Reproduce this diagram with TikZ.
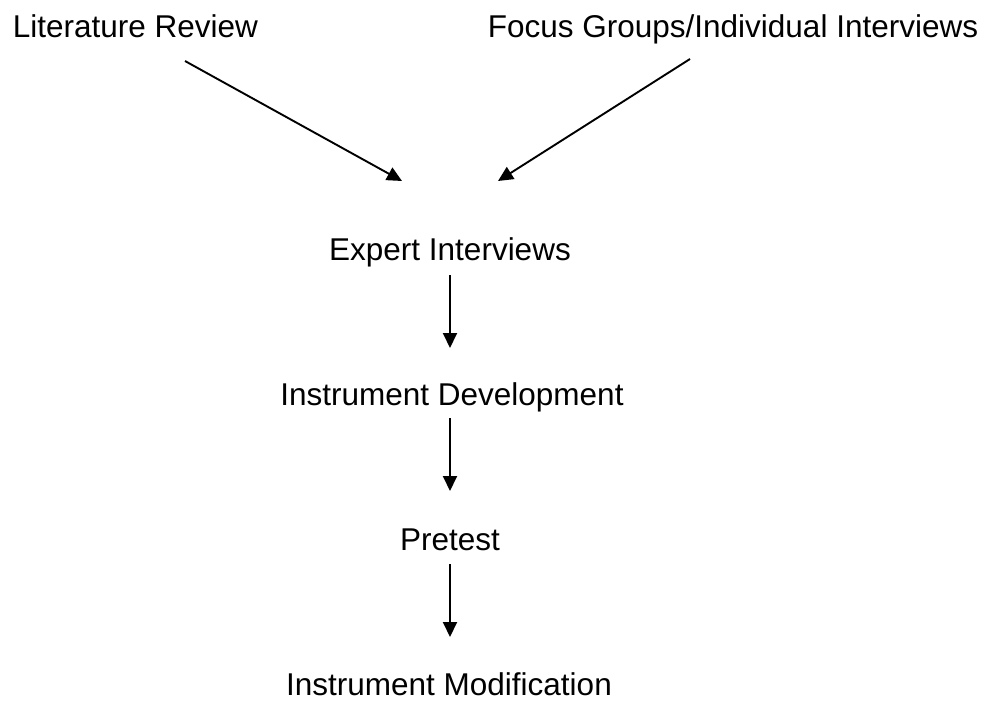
\documentclass[tikz,border=0pt]{standalone}
\usepackage{fontspec}
\setmainfont{Liberation Sans}
\usetikzlibrary{arrows.meta}
\begin{document}
\begin{tikzpicture}[x=1pt,y=-1pt,
  lbl/.style={font=\fontsize{31.5}{36}\selectfont, anchor=base, inner sep=0pt},
  conn/.style={line width=1.9pt, -{Triangle[length=15pt,width=14pt]}}]
\useasboundingbox (0,0) rectangle (988,702);
\node[lbl] (lit) at (135.5,37) {Literature Review};
\node[lbl] (focus) at (733,37) {Focus Groups/Individual Interviews};
\node[lbl] (expert) at (450,260) {Expert Interviews};
\node[lbl] (dev) at (452,405) {Instrument Development};
\node[lbl] (pre) at (450,550) {Pretest};
\node[lbl] (mod) at (449,695) {Instrument Modification};
\coordinate (litE) at (185,61);
\coordinate (focE) at (690,59);
\coordinate (expA) at (402,181);
\coordinate (expB) at (498,181);
\coordinate (expS) at (450,275);
\coordinate (devN) at (450,348);
\coordinate (devS) at (450,418);
\coordinate (preN) at (450,491);
\coordinate (preS) at (450,564);
\coordinate (modN) at (450,637);
\draw[conn] (litE) -- (expA);
\draw[conn] (focE) -- (expB);
\draw[conn] (expS) -- (devN);
\draw[conn] (devS) -- (preN);
\draw[conn] (preS) -- (modN);
\end{tikzpicture}
\end{document}
